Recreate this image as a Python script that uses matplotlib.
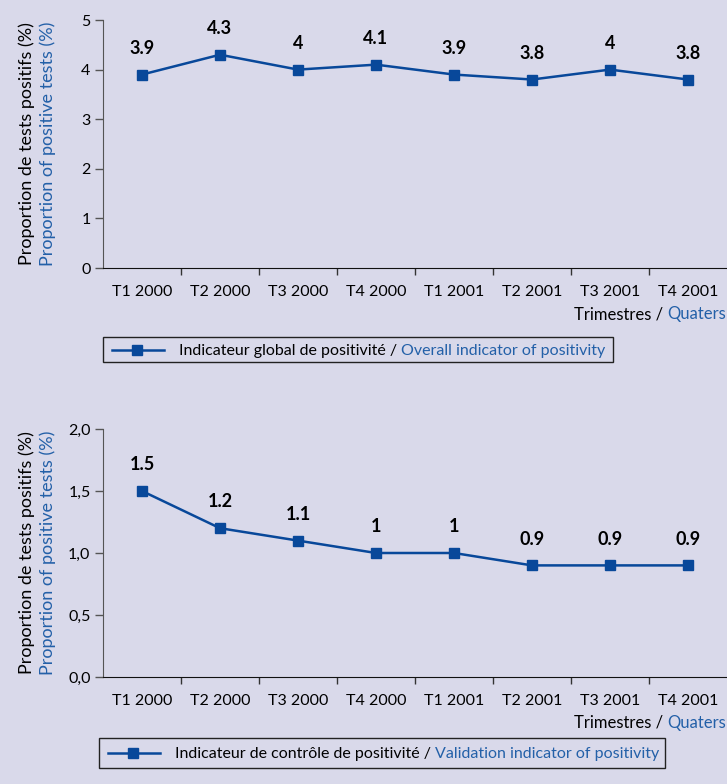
import matplotlib
matplotlib.use("Agg")
import matplotlib.pyplot as plt
from matplotlib.lines import Line2D
from matplotlib.patches import Rectangle

quarters = ["T1 2000", "T2 2000", "T3 2000", "T4 2000",
            "T1 2001", "T2 2001", "T3 2001", "T4 2001"]
global_indicator = [3.9, 4.3, 4, 4.1, 3.9, 3.8, 4, 3.8]
control_indicator = [1.5, 1.2, 1.1, 1, 1, 0.9, 0.9, 0.9]

BG = "#d9d9ea"
LINE = "#08489a"
BLUE = "#2360a8"
FS_TICK = 11.5
FS_YLAB = 13
FS_XLAB = 12
FS_LEG = 11.5
FS_VAL = 13
plt.rcParams["font.family"] = ["Lato", "Open Sans", "DejaVu Sans"]

W, H = 727, 784
fig = plt.figure(figsize=(W / 100, H / 100), dpi=100, facecolor=BG)
renderer = fig.canvas.get_renderer()


def px(x, y):
    """pixel position (from top-left) to figure fraction"""
    return x / W, 1 - y / H


def two_tone(x_right, y_base, black, blue):
    """'black / blue' phrase, right-aligned at x_right, sharing one baseline"""
    t2 = fig.text(*px(x_right, y_base), blue, color=BLUE, fontsize=FS_XLAB,
                  ha="right", va="baseline")
    bb = t2.get_window_extent(renderer)
    fig.text(bb.x0 / W, 1 - y_base / H, black, color="black", fontsize=FS_XLAB,
             ha="right", va="baseline")


def legend_box(x0, y0, x1, y1, black, blue):
    fig.add_artist(Rectangle(px(x0, y1), (x1 - x0) / W, (y1 - y0) / H,
                             transform=fig.transFigure, facecolor=BG,
                             edgecolor="#222222", lw=1))
    ym = (y0 + y1) / 2
    fig.add_artist(Line2D([(x0 + 9) / W, (x0 + 61) / W], [1 - ym / H] * 2,
                          transform=fig.transFigure, color=LINE, lw=1.8))
    fig.add_artist(Line2D([(x0 + 34) / W], [1 - ym / H], transform=fig.transFigure,
                          marker="s", ms=6.5, color=LINE))
    t1 = fig.text((x0 + 76) / W, 1 - (ym + 5) / H, black, color="black",
                  fontsize=FS_LEG, ha="left", va="baseline")
    bb = t1.get_window_extent(renderer)
    fig.text(bb.x1 / W, 1 - (ym + 5) / H, blue, color=BLUE, fontsize=FS_LEG,
             ha="left", va="baseline")


def panel(y_top, y_bottom, values, yticks, yticklabels, ylim,
          legend_fr, legend_en, legend_rect):
    x_left = 103
    ax = fig.add_axes([x_left / W, 1 - y_bottom / H, 1 - x_left / W,
                       (y_bottom - y_top) / H])
    ax.set_facecolor(BG)
    x = list(range(len(values)))
    ax.plot(x, values, color=LINE, lw=1.8, marker="s", ms=6.5,
            markerfacecolor=LINE, markeredgecolor=LINE, clip_on=False)
    for xi, v in zip(x, values):
        ax.annotate(f"{v:g}", (xi, v), xytext=(0, 19), textcoords="offset points",
                    ha="center", va="center", fontsize=FS_VAL, fontweight="bold")
    ax.set_xlim(-0.5, len(values) - 0.5)
    ax.set_ylim(*ylim)
    ax.set_xticks(x)
    ax.set_xticklabels(quarters, fontsize=FS_TICK)
    ax.set_xticks([i + 0.5 for i in range(len(values) - 1)], minor=True)
    ax.tick_params(axis="x", which="major", length=0, pad=12)
    ax.tick_params(axis="x", which="minor", length=5, width=1, color="#333333")
    ax.set_yticks(yticks)
    ax.set_yticklabels(yticklabels, fontsize=FS_TICK)
    ax.tick_params(axis="y", length=6, width=1, color="#555555", pad=3)
    for s in ("top", "right"):
        ax.spines[s].set_visible(False)
    ax.spines["left"].set_color("#555555")
    ax.spines["bottom"].set_color("#111111")

    ymid = 1 - (y_top + y_bottom) / 2 / H
    fig.text(27 / W, ymid, "Proportion de tests positifs (%)", rotation=90,
             ha="center", va="center", fontsize=FS_YLAB, color="black")
    fig.text(48 / W, ymid, "Proportion of positive tests (%)", rotation=90,
             ha="center", va="center", fontsize=FS_YLAB, color=BLUE)

    two_tone(W - 1, y_bottom + 51, "Trimestres / ", "Quaters")
    legend_box(*legend_rect, legend_fr, legend_en)
    return ax


panel(20, 268, global_indicator,
      [0, 1, 2, 3, 4, 5], ["0", "1", "2", "3", "4", "5"], (0, 5),
      "Indicateur global de positivité / ", "Overall indicator of positivity",
      (103, 337, 613, 362))
panel(429, 677, control_indicator,
      [0, 0.5, 1.0, 1.5, 2.0], ["0,0", "0,5", "1,0", "1,5", "2,0"], (0, 2),
      "Indicateur de contrôle de positivité / ", "Validation indicator of positivity",
      (99, 738, 665, 768))

fig.savefig("out.png", dpi=100, facecolor=BG)
